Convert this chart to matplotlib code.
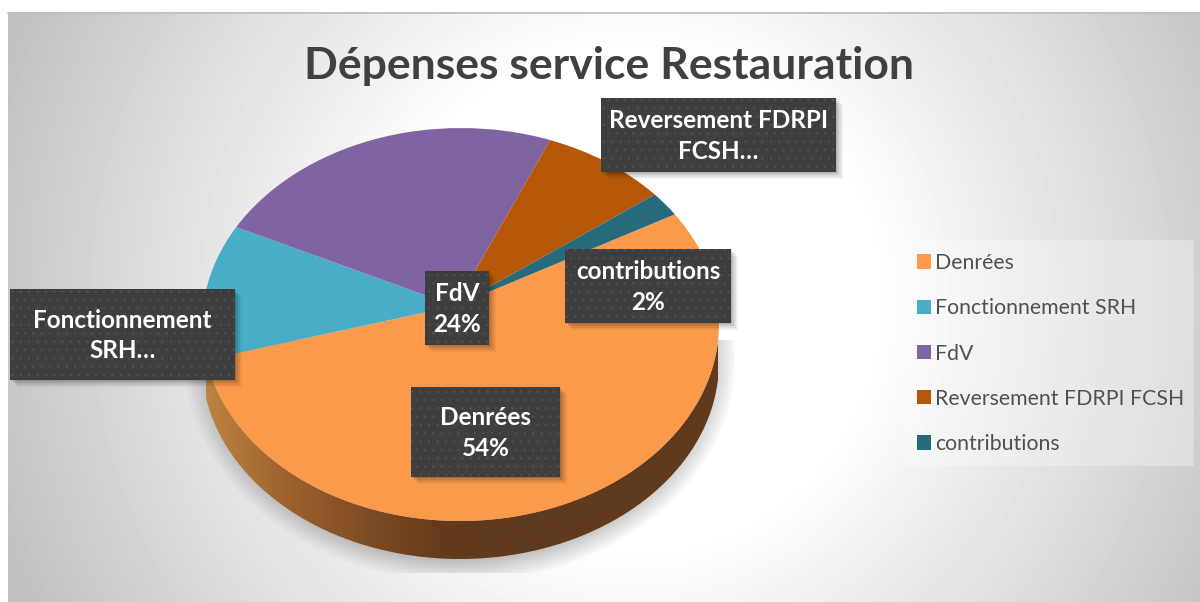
import numpy as np
import matplotlib
matplotlib.use("Agg")
import matplotlib.pyplot as plt
import matplotlib.transforms as mtransforms
from matplotlib.colors import LinearSegmentedColormap
from matplotlib.patches import Rectangle, Patch
from matplotlib.path import Path

plt.rcParams["font.family"] = ["Lato", "DejaVu Sans"]

title = "Dépenses service Restauration"
names = ["Denrées", "Fonctionnement SRH", "FdV", "Reversement FDRPI FCSH", "contributions"]
shares = [53.6, 11.5, 24.4, 8.4, 2.1]
colors = ["#FB9A4A", "#4AADC8", "#8064A2", "#B65708", "#276A7C"]
box_texts = ["Denrées\n54%", "Fonctionnement\nSRH…", "FdV\n24%", "Reversement FDRPI\nFCSH…", "contributions\n2%"]
# label boxes in image pixels: left, top, right, bottom
box_pos = [(411, 387, 560, 477), (10, 289, 235, 380), (425, 271, 489, 345),
           (601, 98, 836, 172), (565, 249, 731, 323)]

start_angle = 28.8
# pie ellipse on the image, and where the slices meet because of the tilt
cx, cy, rx, ry = 460.5, 324.5, 258.5, 196.5
apex_dx, apex_dy = -5.5, 18.5
depth = 38


# circle to tilted ellipse, in image pixels
def tilt(xy):
    x, y = xy[:, 0], xy[:, 1]
    p, q = apex_dx / rx, apex_dy / ry
    w = 1 + p * x + q * y
    a, b = rx * np.sqrt(1 - q * q), ry * np.sqrt(1 - p * p)
    return np.column_stack([cx + (a * x + apex_dx) / w, cy - (b * y + apex_dy) / w])


class PieTilt(mtransforms.Transform):
    input_dims = 2
    output_dims = 2

    def transform_non_affine(self, values):
        return tilt(np.asarray(values))


fig = plt.figure(figsize=(12, 6.02), dpi=100)
ax = fig.add_axes([0, 0, 1, 1])

# background
yy, xx = np.mgrid[12:602, 8:1200]
t = np.hypot((xx - 630) / 640.0, (yy - 300) / 650.0)
shade = 1 - 0.25 * np.clip((t - 0.38) / 0.69, 0, 1)
ax.imshow(shade, extent=(8, 1200, 602, 12), cmap="gray", vmin=0, vmax=1, aspect="auto", zorder=0)
ax.plot([8, 1200], [12.5, 12.5], color="#bdbdbd", lw=1.2, zorder=1)

# soft shadow under the pie, cut by a rectangle like in the original
yy, xx = np.mgrid[340:573, 180:735]
r = np.hypot((xx - 460) / 277, (yy - 358) / 224)
shadow = np.zeros(xx.shape + (4,))
shadow[..., :3] = 0.35
shadow[..., 3] = np.clip((1 - r) / 0.1, 0, 1) * 0.36
ax.imshow(shadow, extent=(180, 735, 573, 340), aspect="auto", zorder=2)

wedges, _ = ax.pie(shares, colors=colors, startangle=start_angle, counterclock=False,
                   wedgeprops={"linewidth": 0, "zorder": 4})
for w in wedges:
    w.set_transform(PieTilt() + ax.transData)

# side wall of the first slice
end_angle = start_angle - shares[0] / sum(shares) * 360
theta = np.radians(np.linspace(0, end_angle, 200))
arc = tilt(np.column_stack([np.cos(theta), np.sin(theta)]))
wall = np.vstack([arc, (arc + [0, depth])[::-1], arc[:1]])
side_cmap = LinearSegmentedColormap.from_list(
    "side", [(0, "#BE8240"), (0.2, "#955A2A"), (0.45, "#643C1C"), (0.55, "#603A1C"), (1, "#603A1C")])
im = ax.imshow(np.linspace(0, 1, 256)[None, :], extent=(205, 718, 570, 340), cmap=side_cmap,
               aspect="auto", zorder=3)
im.set_clip_path(Path(wall), ax.transData)

# data labels
plt.rcParams["hatch.linewidth"] = 0.3
for text, (x0, y0, x1, y1) in zip(box_texts, box_pos):
    for off, a in [(9, 0.05), (7, 0.08), (5, 0.1), (3, 0.12)]:
        ax.add_patch(Rectangle((x0 + off - 2, y0 + off - 2), x1 - x0, y1 - y0, fc="black", ec="none",
                               alpha=a, zorder=5))
    ax.add_patch(Rectangle((x0, y0), x1 - x0, y1 - y0, fc="#3E3E40", ec="#555557", lw=0, hatch="..",
                           zorder=6))
    ax.text((x0 + x1) / 2, (y0 + y1) / 2 + 1, text, color="white", fontsize=17.5, fontweight="bold",
            ha="center", va="center", linespacing=1.42, zorder=7)

ax.text(609, 66, title, color="#404040", fontsize=32, fontweight="bold", ha="center", va="center", zorder=7)

# legend
ax.add_patch(Rectangle((905, 240), 289, 226, fc="white", ec="none", alpha=0.3, zorder=5))
handles = [Patch(fc=c, ec="none") for c in colors]
ax.legend(handles, names, loc="center left", bbox_to_anchor=(917 / 1200, 1 - 353.5 / 602),
          bbox_transform=fig.transFigure, frameon=False, fontsize=15.3, labelcolor="#505050",
          handlelength=0.66, handleheight=0.66, handletextpad=0.2, labelspacing=1.19,
          borderpad=0, borderaxespad=0).set_zorder(8)

ax.set_aspect("auto")
ax.set_xlim(0, 1200)
ax.set_ylim(602, 0)
ax.axis("off")

fig.savefig("out.png", dpi=100, facecolor="white")
